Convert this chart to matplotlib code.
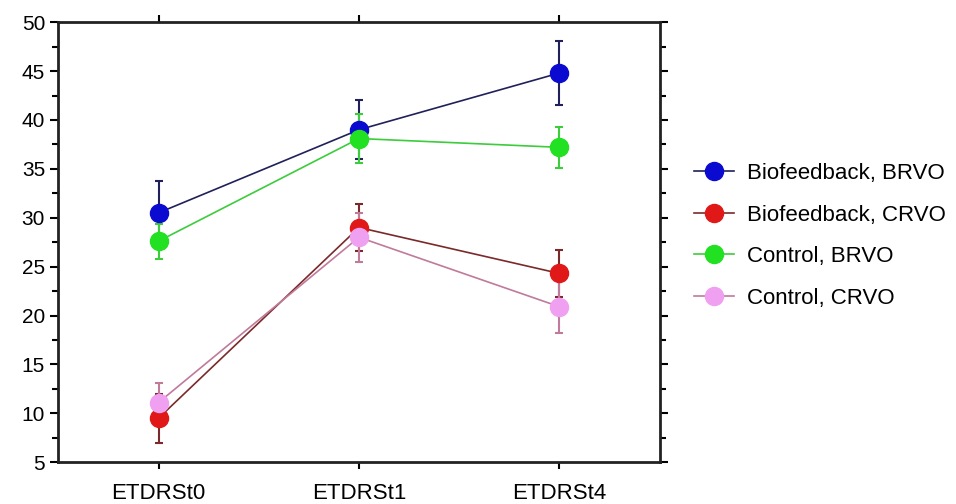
import matplotlib.pyplot as plt
from matplotlib.ticker import MultipleLocator

plt.rcParams['font.family'] = ['Liberation Sans', 'DejaVu Sans']

# time points
labels = ['ETDRSt0', 'ETDRSt1', 'ETDRSt4']

# group means and error half-widths
bio_brvo = [30.5, 39.0, 44.8]
bio_brvo_err = [3.3, 3.0, 3.3]
bio_crvo = [9.5, 29.0, 24.3]
bio_crvo_err = [2.5, 2.4, 2.4]
ctl_brvo = [27.6, 38.1, 37.2]
ctl_brvo_err = [1.8, 2.5, 2.1]
ctl_crvo = [11.1, 28.0, 20.9]
ctl_crvo_err = [2.0, 2.5, 2.7]

series = [
	('Biofeedback, BRVO', bio_brvo, bio_brvo_err, '#0a0ad0', '#20205a'),
	('Biofeedback, CRVO', bio_crvo, bio_crvo_err, '#e01818', '#7a2a2a'),
	('Control, BRVO', ctl_brvo, ctl_brvo_err, '#22e022', '#3ccc3c'),
	('Control, CRVO', ctl_crvo, ctl_crvo_err, '#f0a0f0', '#c07a9a'),
]

fig = plt.figure(figsize=(9.56, 5.04), dpi=100)
ax = fig.add_axes([0.061, 0.083, 0.629, 0.873])

x = list(range(len(labels)))
for name, y, e, mc, lc in series:
	ax.errorbar(x, y, yerr=e, fmt='none', ecolor=lc, elinewidth=1.5, capsize=3, capthick=1.5, zorder=2)
	ax.plot(x, y, color=lc, lw=1.2, marker='o', ms=13, mfc=mc, mec=mc, label=name, zorder=3)

ax.set_xlim(-0.5, 2.5)
ax.set_ylim(5, 50)
ax.set_xticks(x)
ax.set_xticklabels(labels, fontsize=16)
ax.yaxis.set_major_locator(MultipleLocator(5))
ax.yaxis.set_minor_locator(MultipleLocator(2.5))
ax.tick_params(axis='y', labelsize=15, direction='out', length=6, width=1.5, right=True, which='major')
ax.tick_params(axis='y', direction='out', length=4, width=1.5, right=True, which='minor')
ax.tick_params(axis='x', direction='out', length=5, width=1.5, top=True, pad=10)
for s in ax.spines.values():
	s.set_linewidth(2)
	s.set_color('#222222')

fig.legend(loc='center left', bbox_to_anchor=(0.705, 0.532), frameon=False, fontsize=16,
	labelspacing=0.92, handlelength=1.8, handletextpad=0.6)

fig.savefig('out.png', dpi=100)
